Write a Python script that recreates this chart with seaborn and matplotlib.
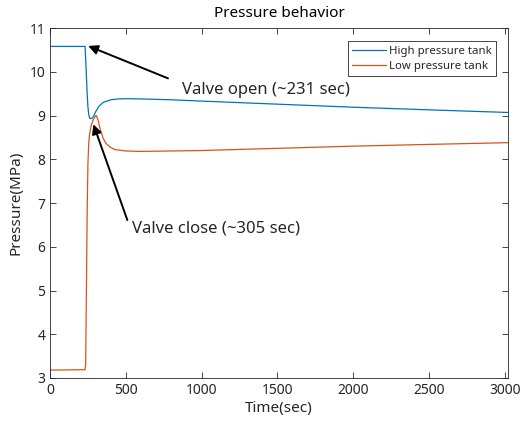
import matplotlib
matplotlib.use("Agg")
import matplotlib.pyplot as plt
import seaborn as sns
import pandas as pd

# Data
time_high = [0, 231, 235, 240, 245, 250, 255, 260, 265, 270, 280, 290, 300, 320, 350,
             400, 450, 500, 600, 800, 1000, 1500, 2000, 2500, 3020]
pressure_high = [10.58, 10.58, 10.3, 9.9, 9.5, 9.2, 9.03, 8.96, 8.93, 8.93, 8.95, 9.0,
                 9.08, 9.2, 9.3, 9.36, 9.38, 9.385, 9.38, 9.36, 9.33, 9.26, 9.19, 9.13, 9.07]
time_low = [0, 231, 235, 240, 245, 250, 255, 260, 270, 280, 290, 300, 305, 315, 330, 350,
            370, 400, 430, 500, 600, 1000, 1500, 2000, 2500, 3020]
pressure_low = [3.18, 3.19, 3.3, 5.0, 6.8, 7.9, 8.35, 8.55, 8.75, 8.86, 8.94, 8.99, 9.0,
                8.92, 8.7, 8.48, 8.36, 8.27, 8.22, 8.19, 8.18, 8.2, 8.25, 8.3, 8.34, 8.38]
series_names = ["High pressure tank", "Low pressure tank"]
x_ticks = [0, 500, 1000, 1500, 2000, 2500, 3000]
y_ticks = [3, 4, 5, 6, 7, 8, 9, 10, 11]

df = pd.concat([
    pd.DataFrame({"Time": time_high, "Pressure": pressure_high, "Series": series_names[0]}),
    pd.DataFrame({"Time": time_low, "Pressure": pressure_low, "Series": series_names[1]}),
])

sns.set_style("white")
plt.rcParams["font.family"] = ["Noto Sans", "DejaVu Sans"]

fig = plt.figure(figsize=(5.21, 4.25), dpi=100)
ax = fig.add_axes([0.096, 0.1106, 0.879, 0.8234])
sns.lineplot(data=df, x="Time", y="Pressure", hue="Series", sort=False,
             palette=["#0072BD", "#D95319"], linewidth=0.9, ax=ax, estimator=None)

ax.set_xlim(0, 3020)
ax.set_ylim(3, 11)
ax.set_xticks(x_ticks)
ax.set_yticks(y_ticks)
axcol = "#262626"
ax.tick_params(direction="in", length=4, width=0.6, colors=axcol, labelsize=10,
               top=True, right=True, bottom=True, left=True)
for s in ax.spines.values():
    s.set_color("#262626")
    s.set_linewidth(0.6)
ax.set_xlabel("Time(sec)", fontsize=11, color=axcol, labelpad=2)
ax.set_ylabel("Pressure(MPa)", fontsize=11, color=axcol, labelpad=4)
ax.set_title("Pressure behavior", fontsize=11, color="black", pad=8)

leg = ax.legend(loc="upper right", fontsize=8.2, frameon=True, fancybox=False,
                edgecolor=axcol, framealpha=1, handlelength=3.0,
                borderaxespad=0.0, bbox_to_anchor=(0.974, 0.963), borderpad=0.4,
                labelspacing=0.35, handletextpad=0.2)
leg.get_frame().set_linewidth(0.6)

arrow = dict(arrowstyle="-|>", color="black", lw=1.4, mutation_scale=14,
             shrinkA=0, shrinkB=0)
ax.annotate("", xy=(252, 10.59), xytext=(778, 9.85), arrowprops=arrow)
ax.text(868, 9.58, "Valve open (~231 sec)", fontsize=12, va="center", ha="left")
ax.annotate("", xy=(286, 8.8), xytext=(510, 6.61), arrowprops=arrow)
ax.text(539, 6.42, "Valve close (~305 sec)", fontsize=12, va="center", ha="left")

fig.savefig("out.png", dpi=100)
